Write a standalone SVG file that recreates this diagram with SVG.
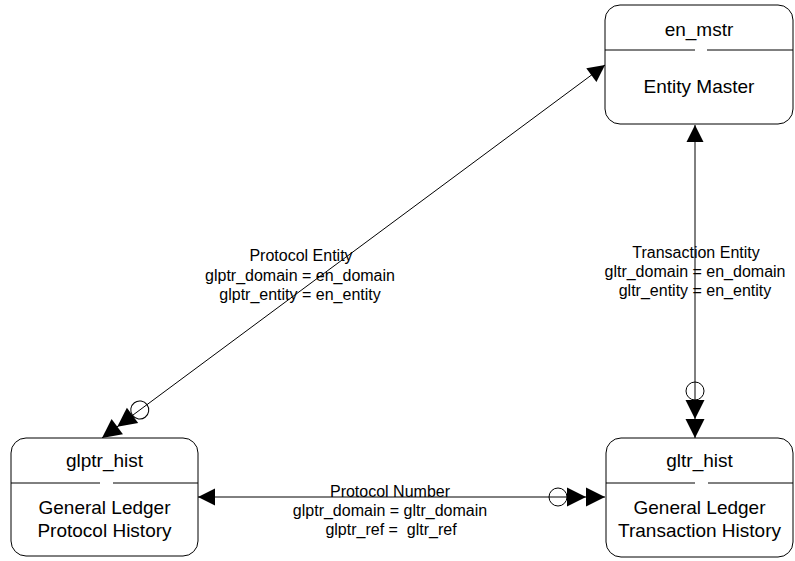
<svg xmlns="http://www.w3.org/2000/svg" width="795" height="561" viewBox="0 0 795 561">
<style>
.box{fill:#fff;stroke:#000;stroke-width:1}
.div{stroke:#000;stroke-width:1}
.nt{font-family:"Liberation Sans",Arial,sans-serif;font-size:19px;fill:#000;text-anchor:middle}
.lb{font-family:"Liberation Sans",Arial,sans-serif;font-size:16px;fill:#000;text-anchor:middle;white-space:pre}
.con{fill:none;stroke:#000;stroke-width:1}
</style>
<defs>
<marker id="one" markerUnits="userSpaceOnUse" markerWidth="20" markerHeight="20" refX="0" refY="0" orient="auto-start-reverse" overflow="visible">
<polygon points="0,0 -17,-8.5 -17,8.5" fill="#000"/>
</marker>
<marker id="many" markerUnits="userSpaceOnUse" markerWidth="60" markerHeight="20" refX="0" refY="0" orient="auto" overflow="visible">
<polygon points="0,0 -19,-9.5 -19,9.5" fill="#000"/>
<polygon points="-19,0 -38,-9.5 -38,9.5" fill="#000"/>
<circle cx="-47" cy="0" r="9" fill="none" stroke="#000" stroke-width="1"/>
</marker>
</defs>
<g id="connectors">
<path class="con" d="M605,65 L102,438" marker-start="url(#one)" marker-end="url(#many)"/>
<path class="con" d="M695,125 L695,438" marker-start="url(#one)" marker-end="url(#many)"/>
<path class="con" d="M198,497 L605,497" marker-start="url(#one)" marker-end="url(#many)"/>
<text class="lb" x="301" y="261">Protocol Entity</text>
<text class="lb" x="300" y="281">glptr_domain = en_domain</text>
<text class="lb" x="300" y="300">glptr_entity = en_entity</text>
<text class="lb" x="696" y="258">Transaction Entity</text>
<text class="lb" x="695" y="277">gltr_domain = en_domain</text>
<text class="lb" x="695" y="296">gltr_entity = en_entity</text>
<text class="lb" x="390" y="497">Protocol Number</text>
<text class="lb" x="390" y="516">glptr_domain = gltr_domain</text>
<text class="lb" x="391" y="535" xml:space="preserve">glptr_ref =  gltr_ref</text>
</g>
<g id="en_mstr">
<rect class="box" x="605" y="5" width="188" height="119" rx="15" ry="15"/>
<line class="div" x1="605" y1="50" x2="695" y2="50"/>
<line class="div" x1="707" y1="50" x2="793" y2="50"/>
<text class="nt" x="699" y="36">en_mstr</text>
<text class="nt" x="699" y="93">Entity Master</text>
</g>
<g id="glptr_hist">
<rect class="box" x="11" y="438" width="187" height="118" rx="15" ry="15"/>
<line class="div" x1="11" y1="483" x2="100" y2="483"/>
<line class="div" x1="113" y1="483" x2="198" y2="483"/>
<text class="nt" x="104.5" y="467">glptr_hist</text>
<text class="nt" x="104.5" y="514">General Ledger</text>
<text class="nt" x="104.5" y="537">Protocol History</text>
</g>
<g id="gltr_hist">
<rect class="box" x="606" y="438" width="187" height="119" rx="15" ry="15"/>
<line class="div" x1="606" y1="483" x2="695" y2="483"/>
<line class="div" x1="708" y1="483" x2="793" y2="483"/>
<text class="nt" x="699.5" y="467">gltr_hist</text>
<text class="nt" x="699.5" y="514">General Ledger</text>
<text class="nt" x="699.5" y="537">Transaction History</text>
</g>
</svg>
